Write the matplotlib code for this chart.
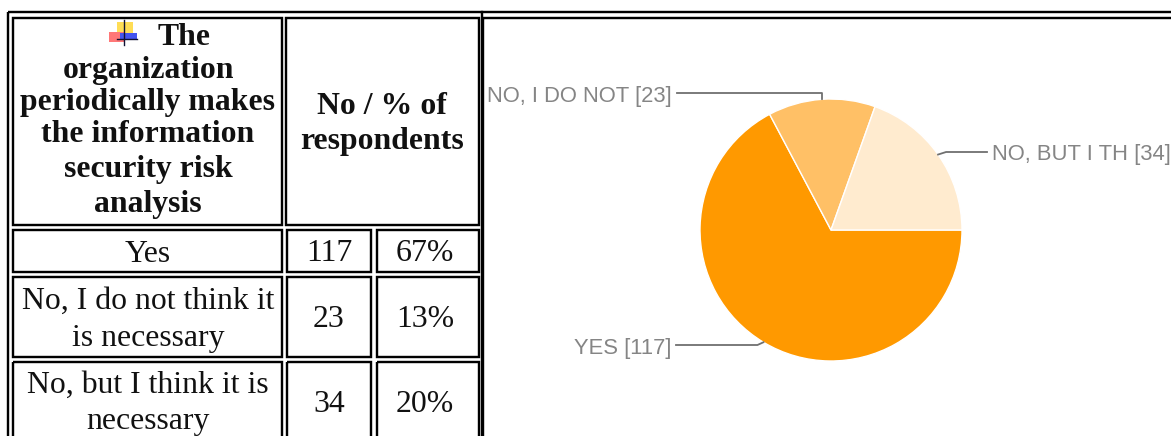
import numpy as np
import matplotlib
matplotlib.use("Agg")
import matplotlib.pyplot as plt
from matplotlib.patches import Rectangle

W, H = 1171, 436

# survey answers
answers = ["Yes", "No, I do not think it is necessary", "No, but I think it is necessary"]
counts = [117, 23, 34]
percents = ["67%", "13%", "20%"]
pie_labels = ["YES [117]", "NO, I DO NOT [23]", "NO, BUT I TH [34]"]
pie_colors = ["#ff9900", "#ffc066", "#ffebcf"]
header_lines = ["The", "organization", "periodically makes", "the information",
                "security risk", "analysis"]
header_right = ["No / % of", "respondents"]

SERIF = "Liberation Serif"
SANS = "Liberation Sans"
BODY = 22.9
LABEL = 15.8


def box(ax, x0, y0, x1, y1, lw=2.4):
    ax.add_patch(Rectangle((x0, y0), x1 - x0, y1 - y0, fill=False, ec="black", lw=lw * 0.72,
                           joinstyle="miter"))


fig = plt.figure(figsize=(W / 100, H / 100), dpi=100, facecolor="white")

# pie: centre (831, 230), radius 131 px
cx, cy, r = 831, 230, 131
pie_ax = fig.add_axes([(cx - r) / W, 1 - (cy + r) / H, 2 * r / W, 2 * r / H])
wedges, _ = pie_ax.pie(counts, colors=pie_colors, startangle=0, counterclock=False, radius=1,
                       wedgeprops={"edgecolor": "white", "linewidth": 1.0})
pie_ax.set_xlim(-1, 1)
pie_ax.set_ylim(-1, 1)

# overlay in pixel coordinates for the table and the leader lines
ax = fig.add_axes([0, 0, 1, 1], facecolor="none")
ax.set_xlim(0, W)
ax.set_ylim(H, 0)
ax.axis("off")

# outer tables
box(ax, 8, 12, 482, H + 20)
box(ax, 483, 18, W + 20, H + 20)
ax.plot([482, W], [12, 12], color="black", lw=2.4 * 0.72)

# table cells
box(ax, 13, 18, 282, 225)
box(ax, 286, 18, 479, 225)
row_tops = [230, 277, 362]
row_bottoms = [272, 357, H + 20]
for top, bottom in zip(row_tops, row_bottoms):
    box(ax, 13, top, 282, bottom)
    box(ax, 287, top, 371, bottom)
    box(ax, 377, top, 479, bottom)

# little bullet icon in front of the header
ax.add_patch(Rectangle((117, 22), 16, 11, fc="#ffdd55", ec="none"))
ax.add_patch(Rectangle((109, 32), 16, 10, fc="#ff7777", ec="none"))
ax.add_patch(Rectangle((120, 33), 17, 7, fc="#4455ee", ec="none"))
ax.plot([124, 124], [20, 45], color="#111133", lw=1)
ax.plot([117, 137], [39, 39], color="#111133", lw=1)

# header text, placed on baselines
header_y = [45, 78, 110, 142, 177, 212]
header_x = [184, 148, 148, 148, 148, 148]
for text, x, y in zip(header_lines, header_x, header_y):
    ax.text(x, y, text, family=SERIF, weight="bold", size=BODY, ha="center", va="baseline",
            color="#111111")
for text, y in zip(header_right, [114, 149]):
    ax.text(382, y, text, family=SERIF, weight="bold", size=BODY, ha="center", va="baseline",
            color="#111111")

# body rows
wrap = [["Yes"], ["No, I do not think it", "is necessary"], ["No, but I think it is", "necessary"]]
wrap_y = [[262], [309, 346], [393, 429]]
mid_y = [261, 327, 412]
for i in range(len(answers)):
    for text, y in zip(wrap[i], wrap_y[i]):
        ax.text(148, y, text, family=SERIF, size=BODY, ha="center", va="baseline", color="#111111")
    ax.text(329, mid_y[i], str(counts[i]), family=SERIF, size=BODY, ha="center", va="baseline",
            color="#111111")
    ax.text(425, mid_y[i], percents[i], family=SERIF, size=BODY, ha="center", va="baseline",
            color="#111111")

# leader lines start at the middle of each wedge
label_y = [345, 93, 152]
label_base = [354, 102, 160]
label_end = [676, 677, 987]
label_side = ["right", "right", "left"]
for i, w in enumerate(wedges):
    mid = np.deg2rad((w.theta1 + w.theta2) / 2)
    ax_x = cx + r * np.cos(mid)
    ax_y = cy - r * np.sin(mid)
    if i == 1:
        xs, ys = [ax_x, ax_x, label_end[i]], [ax_y, label_y[i], label_y[i]]
    else:
        xs = [ax_x, ax_x + (-6 if i == 0 else 8), label_end[i]]
        ys = [ax_y, label_y[i], label_y[i]]
    ax.plot(xs, ys, color="#707070", lw=1.3, solid_joinstyle="round")
    x_text = label_end[i] - 5 if label_side[i] == "right" else label_end[i] + 5
    ax.text(x_text, label_base[i], pie_labels[i], family=SANS, size=LABEL, color="#858585",
            ha=label_side[i], va="baseline")

fig.savefig("out.png", dpi=100)
